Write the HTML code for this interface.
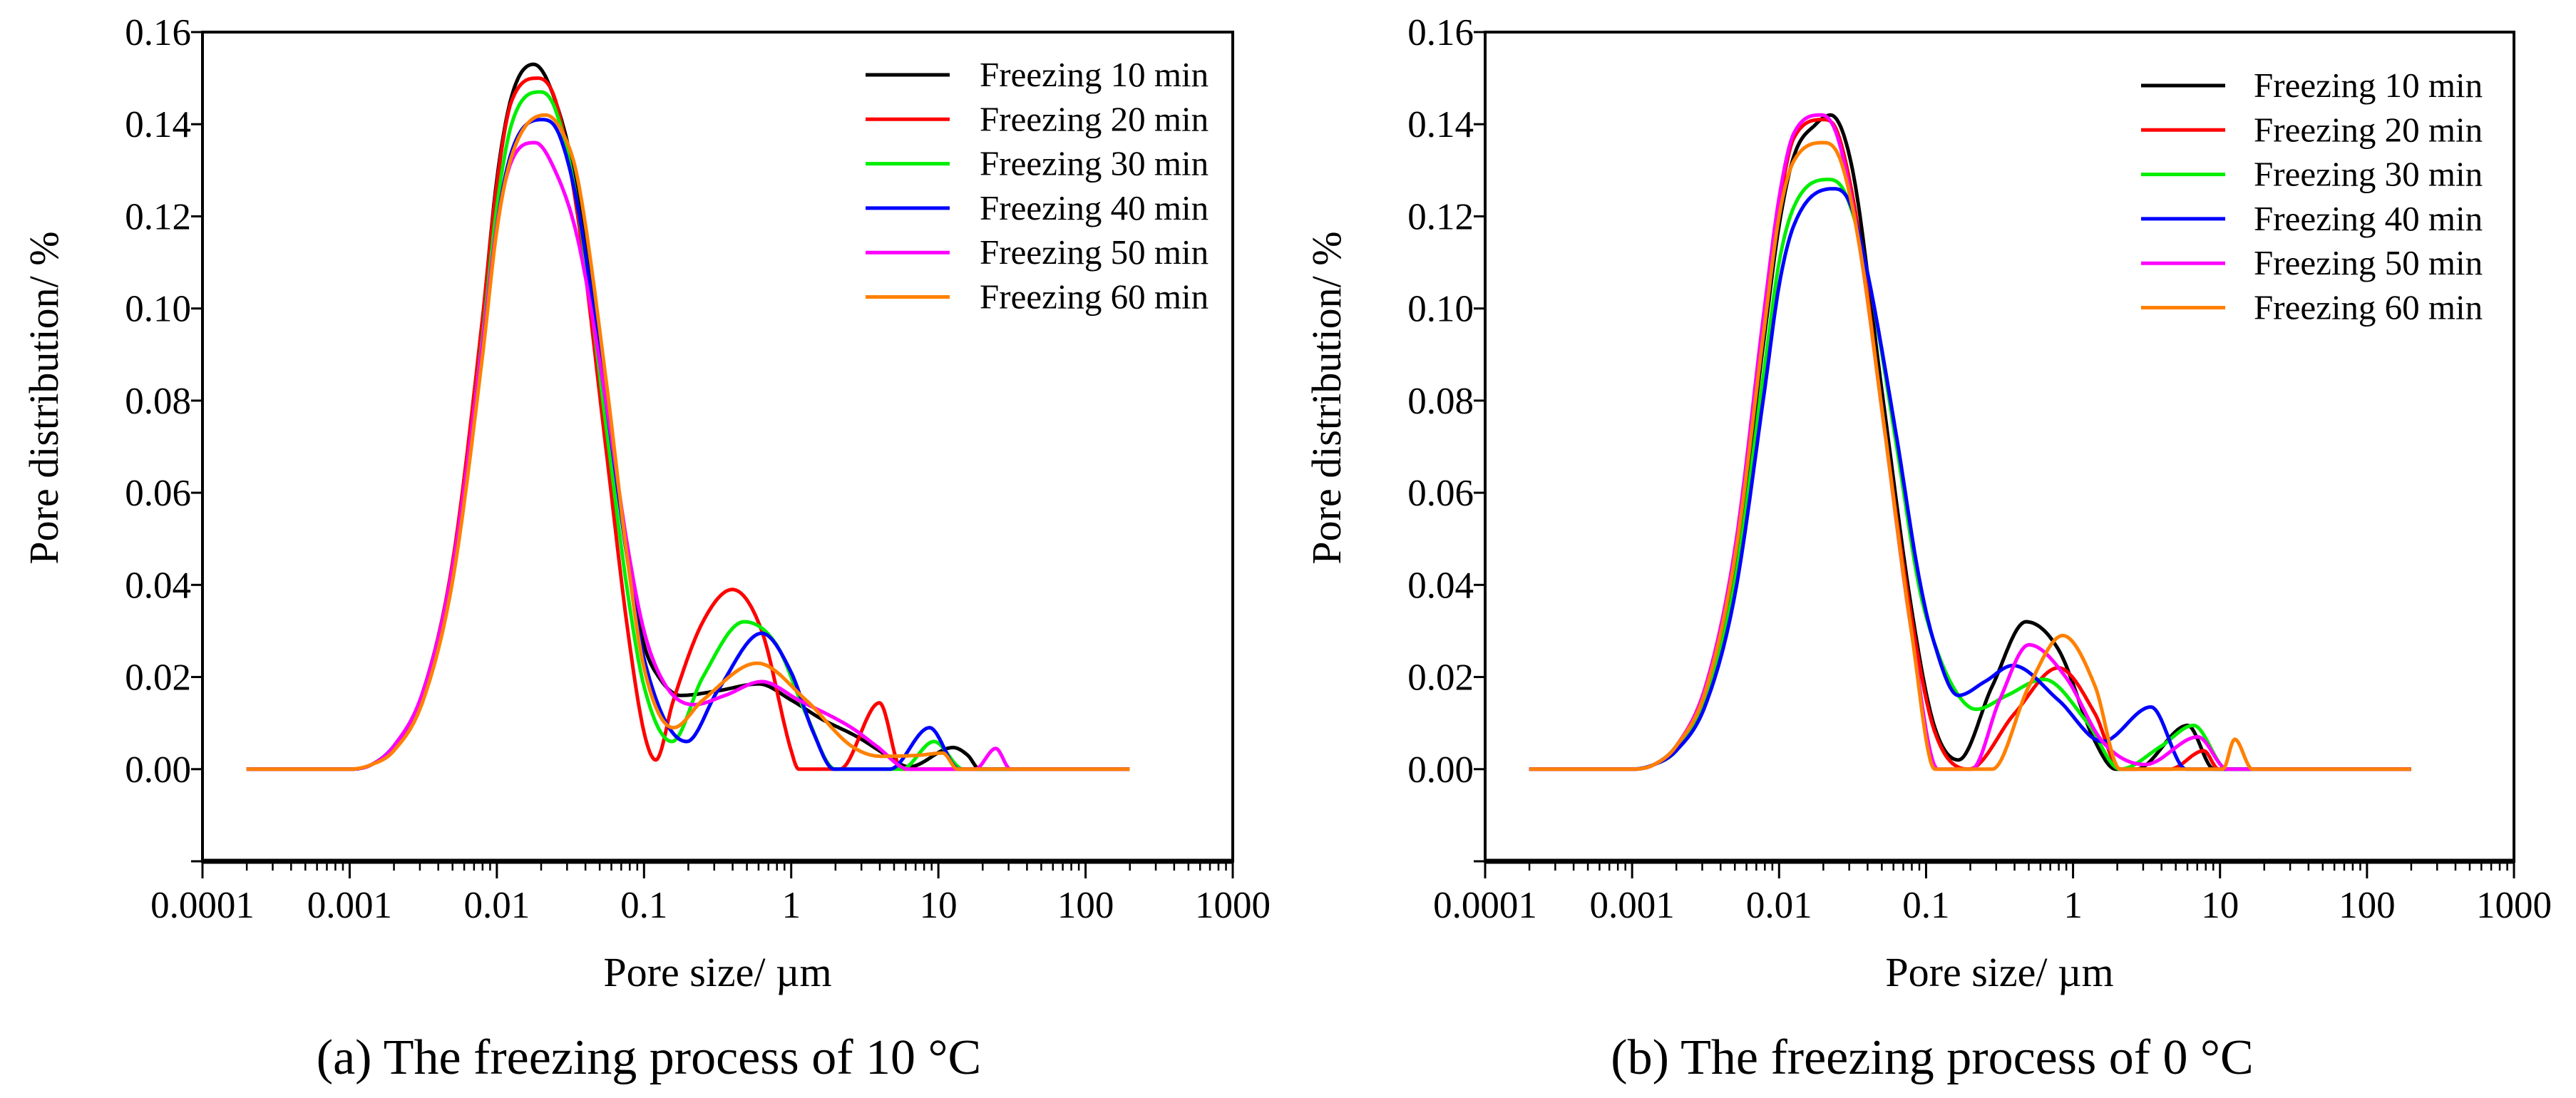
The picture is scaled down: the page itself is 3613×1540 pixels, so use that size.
<!DOCTYPE html>
<html><head><meta charset="utf-8"><style>
html,body{margin:0;padding:0;background:#fff;}
svg, svg text{font-family:"Liberation Serif","Times New Roman",serif;}
svg{display:block;}
</style></head><body>
<svg id="fig" width="3613" height="1540" viewBox="0 0 3613 1540" xmlns="http://www.w3.org/2000/svg" font-family="Liberation Serif, serif"></svg>
<script>
const seriesNames = ["Freezing 10 min","Freezing 20 min","Freezing 30 min","Freezing 40 min","Freezing 50 min","Freezing 60 min"];
const seriesColors = ["#000000","#ff0000","#00ee00","#0000ff","#ff00ff","#ff8000"];
const yTicks = [0,0.02,0.04,0.06,0.08,0.10,0.12,0.14,0.16];
const yTickLabels = ["0.00","0.02","0.04","0.06","0.08","0.10","0.12","0.14","0.16"];
const xTicks = [0.0001,0.001,0.01,0.1,1,10,100,1000];
const xTickLabels = ["0.0001","0.001","0.01","0.1","1","10","100","1000"];
// knots: log10(pore size µm) and pore distribution values
const a10x = [-3.7,-3.0,-2.85,-2.7,-2.5,-2.3,-2.1,-2.0,-1.9,-1.75,-1.65,-1.48,-1.26,-1.11,-1.0,-0.9,-0.75,-0.5,-0.22,0,0.2,0.45,0.65,0.8,1.1,1.2,1.28,2.3];
const a10y = [0,0,0.001,0.005,0.017,0.045,0.097,0.128,0.146,0.153,0.149,0.13,0.082,0.045,0.027,0.02,0.016,0.017,0.0185,0.015,0.011,0.007,0.003,0.0005,0.0047,0.003,0,0];
const a20x = [-3.7,-3.0,-2.85,-2.7,-2.5,-2.3,-2.1,-2.0,-1.9,-1.72,-1.6,-1.45,-1.26,-1.11,-1.0,-0.92,-0.8,-0.6,-0.4,-0.2,0,0.05,0.33,0.6,0.75,2.3];
const a20y = [0,0,0.001,0.005,0.017,0.045,0.097,0.127,0.145,0.150,0.145,0.12,0.07,0.03,0.008,0.002,0.015,0.032,0.039,0.03,0.004,0,0,0.0144,0,0];
const a30x = [-3.7,-3.0,-2.85,-2.7,-2.5,-2.3,-2.1,-2.0,-1.9,-1.7,-1.6,-1.45,-1.26,-1.11,-1.0,-0.81,-0.6,-0.32,-0.1,0.1,0.3,0.75,0.97,1.17,2.3];
const a30y = [0,0,0.001,0.005,0.016,0.043,0.093,0.122,0.14,0.147,0.143,0.122,0.075,0.038,0.018,0.006,0.02,0.032,0.027,0.012,0,0,0.006,0,0];
const a40x = [-3.7,-3.0,-2.85,-2.7,-2.5,-2.3,-2.1,-2.0,-1.9,-1.69,-1.58,-1.45,-1.26,-1.11,-1.0,-0.71,-0.5,-0.2,0,0.15,0.29,0.67,0.94,1.14,2.3];
const a40y = [0,0,0.001,0.005,0.016,0.042,0.09,0.118,0.134,0.141,0.138,0.122,0.08,0.045,0.024,0.006,0.017,0.0295,0.021,0.008,0,0,0.009,0,0];
const a50x = [-3.7,-3.0,-2.85,-2.7,-2.5,-2.3,-2.1,-2.0,-1.9,-1.74,-1.62,-1.45,-1.26,-1.11,-1.0,-0.85,-0.66,-0.45,-0.2,0.05,0.41,0.58,0.8,1.25,1.39,1.49,2.3];
const a50y = [0,0,0.001,0.005,0.017,0.044,0.092,0.118,0.132,0.136,0.131,0.115,0.08,0.048,0.03,0.018,0.014,0.016,0.019,0.015,0.009,0.005,0,0,0.0045,0,0];
const a60x = [-3.7,-3.0,-2.85,-2.7,-2.5,-2.3,-2.1,-2.0,-1.9,-1.67,-1.55,-1.45,-1.26,-1.11,-1.0,-0.8,-0.6,-0.23,0.1,0.41,0.61,0.86,1.03,1.13,2.3];
const a60y = [0,0,0.001,0.004,0.015,0.041,0.089,0.117,0.133,0.142,0.138,0.128,0.085,0.045,0.022,0.009,0.015,0.023,0.015,0.005,0.0028,0.003,0.0035,0,0];
const b10x = [-3.7,-3.0,-2.85,-2.7,-2.5,-2.3,-2.1,-2.0,-1.9,-1.75,-1.65,-1.5,-1.3,-1.1,-0.95,-0.78,-0.55,-0.32,-0.1,0.15,0.29,0.43,0.78,0.96,2.3];
const b10y = [0,0,0.001,0.005,0.017,0.045,0.094,0.118,0.133,0.14,0.142,0.13,0.082,0.035,0.01,0.002,0.018,0.032,0.026,0.006,0,0,0.0095,0,0];
const b20x = [-3.7,-3.0,-2.85,-2.7,-2.5,-2.3,-2.1,-2.0,-1.9,-1.7,-1.6,-1.45,-1.3,-1.1,-0.95,-0.71,-0.4,-0.1,0.15,0.32,0.66,0.89,0.99,2.3];
const b20y = [0,0,0.001,0.005,0.018,0.047,0.098,0.122,0.137,0.141,0.138,0.115,0.078,0.033,0.009,0,0.012,0.022,0.012,0,0,0.004,0,0];
const b30x = [-3.7,-3.0,-2.85,-2.7,-2.5,-2.3,-2.1,-2.0,-1.9,-1.66,-1.55,-1.4,-1.2,-1.05,-0.95,-0.8,-0.66,-0.45,-0.2,0.1,0.32,0.6,0.82,1.05,2.3];
const b30y = [0,0,0.001,0.004,0.015,0.041,0.087,0.11,0.122,0.128,0.125,0.108,0.07,0.04,0.028,0.017,0.013,0.016,0.0195,0.01,0,0.005,0.0095,0,0];
const b40x = [-3.7,-3.0,-2.85,-2.7,-2.5,-2.3,-2.1,-2.0,-1.9,-1.63,-1.52,-1.4,-1.2,-1.05,-0.95,-0.78,-0.6,-0.41,-0.1,0.2,0.53,0.77,2.3];
const b40y = [0,0,0.001,0.004,0.014,0.038,0.082,0.105,0.118,0.126,0.123,0.108,0.072,0.042,0.028,0.016,0.019,0.0225,0.015,0.006,0.0135,0,0];
const b50x = [-3.7,-3.0,-2.85,-2.7,-2.5,-2.3,-2.1,-2.0,-1.9,-1.71,-1.6,-1.45,-1.3,-1.1,-0.92,-0.69,-0.5,-0.3,-0.05,0.2,0.49,0.85,1.05,2.3];
const b50y = [0,0,0.001,0.005,0.018,0.048,0.1,0.124,0.138,0.142,0.137,0.113,0.078,0.03,0,0,0.015,0.027,0.02,0.006,0.001,0.007,0,0];
const b60x = [-3.7,-3.0,-2.85,-2.7,-2.5,-2.3,-2.1,-2.0,-1.9,-1.69,-1.58,-1.45,-1.3,-1.1,-0.94,-0.55,-0.3,-0.07,0.15,0.32,1.02,1.1,1.22,2.3];
const b60y = [0,0,0.001,0.005,0.017,0.046,0.096,0.12,0.132,0.136,0.132,0.113,0.078,0.03,0,0,0.018,0.029,0.018,0,0,0.0065,0,0];

const panels = [
  {id:"a", X0:284, X1:1729, Yt:45, Yb:1208, xs:[a10x,a20x,a30x,a40x,a50x,a60x], ys:[a10y,a20y,a30y,a40y,a50y,a60y],
   legX:1214, legTextX:1374, legY0:105, title:"(a) The freezing process of 10 °C", capX:910},
  {id:"b", X0:2083, X1:3526, Yt:45, Yb:1208, xs:[b10x,b20x,b30x,b40x,b50x,b60x], ys:[b10y,b20y,b30y,b40y,b50y,b60y],
   legX:3003, legTextX:3161, legY0:120, title:"(b) The freezing process of 0 °C", capX:2710}
];
const NS="http://www.w3.org/2000/svg";
const svg=document.getElementById("fig");
const FONT="Liberation Serif, Times New Roman, serif";
function mk(tag,attrs,parent){const e=document.createElementNS(NS,tag);for(const k in attrs)e.setAttribute(k,attrs[k]);if(tag==="text")e.setAttribute("font-family",FONT);(parent||svg).appendChild(e);return e;}
function monotone(xs,ys){
  const n=xs.length,d=[],m=new Array(n);
  for(let i=0;i<n-1;i++)d.push((ys[i+1]-ys[i])/(xs[i+1]-xs[i]));
  m[0]=d[0];m[n-1]=d[n-2];
  for(let i=1;i<n-1;i++){ if(d[i-1]*d[i]<=0)m[i]=0; else { m[i]=(d[i-1]+d[i])/2; } }
  for(let i=0;i<n-1;i++){ if(d[i]===0){m[i]=0;m[i+1]=0;continue;}
    const a=m[i]/d[i],b=m[i+1]/d[i],s=a*a+b*b; if(s>9){const t=3/Math.sqrt(s);m[i]=t*a*d[i];m[i+1]=t*b*d[i];} }
  return function(x){let i=0;while(i<n-2&&x>xs[i+1])i++;
    const h=xs[i+1]-xs[i],t=(x-xs[i])/h,t2=t*t,t3=t2*t;
    return (2*t3-3*t2+1)*ys[i]+(t3-2*t2+t)*h*m[i]+(-2*t3+3*t2)*ys[i+1]+(t3-t2)*h*m[i+1];};
}
panels.forEach(p=>{
  const g=mk("g",{});
  
  
  const xS=lx=>p.X0+(lx+4)/7*(p.X1-p.X0);
  const yS=v=>p.Yb-(v+0.02)/0.18*(p.Yb-p.Yt);
  for(let s=0;s<6;s++){
    const f=monotone(p.xs[s],p.ys[s]);
    const xa=p.xs[s];let d="";
    for(let lx=xa[0];lx<=xa[xa.length-1]+1e-9;lx+=0.01){d+=(d?"L":"M")+xS(lx).toFixed(1)+" "+yS(Math.max(0,f(lx))).toFixed(1);}
    const path=mk("path",{d:d,fill:"none",stroke:seriesColors[s],"stroke-width":5,"stroke-linejoin":"round"},g);
    
    
  }
  const fr=mk("rect",{x:p.X0,y:p.Yt,width:p.X1-p.X0,height:p.Yb-p.Yt,fill:"none",stroke:"#000","stroke-width":4},g);
  
  
  mk("line",{x1:p.X0,y1:p.Yb,x2:p.X1,y2:p.Yb,stroke:"#000","stroke-width":7},g);
  yTicks.concat([-0.02]).forEach(v=>{mk("line",{x1:p.X0-16,y1:yS(v),x2:p.X0,y2:yS(v),stroke:"#000","stroke-width":3},g);});
  yTicks.forEach((v,i)=>{const t=mk("text",{x:p.X0-16,y:yS(v)+18,"text-anchor":"end","font-size":53},g);t.textContent=yTickLabels[i];
    
    });
  for(let dcd=-4;dcd<3;dcd++){for(let k=2;k<10;k++){const x=xS(dcd+Math.log10(k));mk("line",{x1:x,y1:p.Yb,x2:x,y2:p.Yb+13,stroke:"#000","stroke-width":2.5},g);}}
  xTicks.forEach((v,i)=>{const x=xS(Math.log10(v));mk("line",{x1:x,y1:p.Yb,x2:x,y2:p.Yb+24,stroke:"#000","stroke-width":3},g);
    const t=mk("text",{x:x,y:1287,"text-anchor":"middle","font-size":53},g);t.textContent=xTickLabels[i];
    
    });
  const yt=mk("text",{x:0,y:0,"text-anchor":"middle","font-size":58,transform:"translate("+(p.X0-203)+",558) rotate(-90)"},g);
  yt.textContent="Pore distribution/ %";
  
  
  const xt=mk("text",{x:(p.X0+p.X1)/2,y:1383,"text-anchor":"middle","font-size":58},g);
  xt.textContent="Pore size/ µm";
  
  
  const cap=mk("text",{x:p.capX,y:1506,"text-anchor":"middle","font-size":70},g);
  cap.textContent=p.title;
  
  
  for(let s=0;s<6;s++){const y=p.legY0+s*62.3;
    const lg=mk("g",{},g);
    
    
    mk("line",{x1:p.legX,y1:y,x2:p.legX+118,y2:y,stroke:seriesColors[s],"stroke-width":5},lg);
    const t=mk("text",{x:p.legTextX,y:y+16,"font-size":49},lg);t.textContent=seriesNames[s];}
});
</script>
</body></html>
